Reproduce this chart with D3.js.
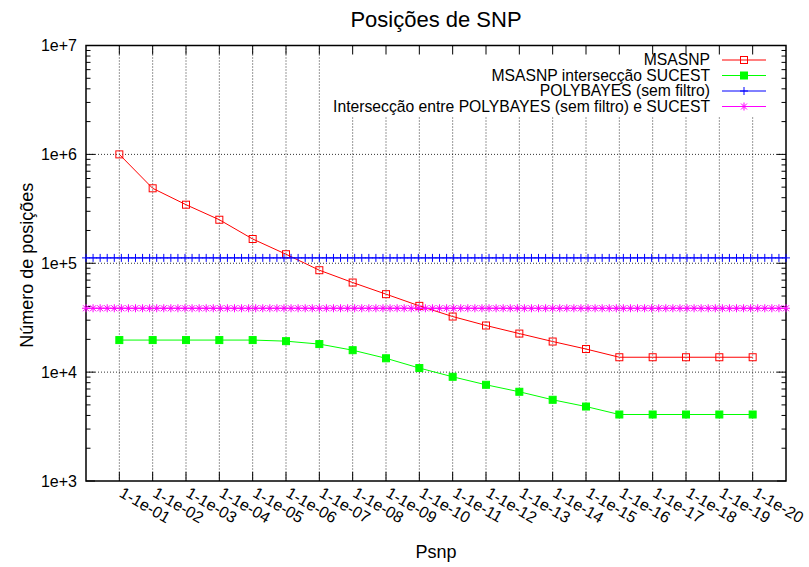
<!DOCTYPE html>
<html lang="en">
<head>
    <meta charset="UTF-8">
    <title>Posições de SNP</title>
    <script src="https://d3js.org/d3.v7.min.js"></script>
    <style>
        body {
            margin: 0;
            background: #fff;
        }
        svg text {
            font-family: "Liberation Sans", Arial, Helvetica, sans-serif;
            fill: #000;
        }
        .grid line {
            stroke: #000;
            stroke-opacity: 0.8;
            stroke-dasharray: 1, 2;
            stroke-width: 1;
        }
    </style>
</head>
<body>
    <div id="chart"></div>

    <script>
        const width = 809, height = 567;

        // data
        const psnpLabels = ["1-1e-01", "1-1e-02", "1-1e-03", "1-1e-04", "1-1e-05",
            "1-1e-06", "1-1e-07", "1-1e-08", "1-1e-09", "1-1e-10",
            "1-1e-11", "1-1e-12", "1-1e-13", "1-1e-14", "1-1e-15",
            "1-1e-16", "1-1e-17", "1-1e-18", "1-1e-19", "1-1e-20"];
        const msasnp = [1000000, 488000, 345000, 251000, 167000, 121000, 86300, 66500, 52000, 40600,
            32400, 26800, 22600, 19100, 16300, 13700, 13700, 13700, 13700, 13700];
        const msasnpSucest = [19700, 19700, 19700, 19700, 19700, 19250, 18100, 15900, 13400, 10900,
            9060, 7650, 6600, 5570, 4830, 4080, 4080, 4080, 4080, 4080];
        const polybayes = 112000;       // constant line (sem filtro)
        const polybayesSucest = 38600;  // constant line
        const yTickValues = [1e3, 1e4, 1e5, 1e6, 1e7];
        const yTickLabels = ["1e+3", "1e+4", "1e+5", "1e+6", "1e+7"];
        const legendLabels = ["MSASNP", "MSASNP intersecção SUCEST",
            "POLYBAYES (sem filtro)", "Intersecção entre POLYBAYES (sem filtro) e SUCEST"];
        const nSamples = 100;

        const margin = {top: 45.5, right: 23, bottom: 86, left: 86};
        const plotW = width - margin.left - margin.right;
        const plotH = height - margin.top - margin.bottom;

        const svg = d3.select("#chart")
            .append("svg")
            .attr("width", width)
            .attr("height", height);

        const x = d3.scaleLinear().domain([0, psnpLabels.length + 1]).range([margin.left, margin.left + plotW]);
        const y = d3.scaleLog().domain([1e3, 1e7]).range([margin.top + plotH, margin.top]);

        const idx = d3.range(1, psnpLabels.length + 1);
        const minorTicks = [];
        for (let d = 1e3; d < 1e7; d *= 10) {
            for (let m = 2; m <= 9; m++) minorTicks.push(d * m);
        }

        // grid
        const grid = svg.append("g").attr("class", "grid");
        grid.selectAll(".gx").data(idx).join("line")
            .attr("x1", d => x(d)).attr("x2", d => x(d))
            .attr("y1", y(1e7)).attr("y2", y(1e3));
        grid.selectAll(".gy").data(yTickValues.slice(1, -1)).join("line")
            .attr("class", "gy")
            .attr("x1", x(0)).attr("x2", x(21))
            .attr("y1", d => y(d)).attr("y2", d => y(d));

        // legend background hides the grid behind it
        svg.append("rect")
            .attr("x", 326).attr("y", y(1e7) + 1)
            .attr("width", x(21) - 326 - 1).attr("height", 70)
            .attr("fill", "#fff");

        // ticks
        const ticks = svg.append("g").attr("stroke", "#000").attr("stroke-width", 1);
        idx.forEach(d => {
            ticks.append("line").attr("x1", x(d)).attr("x2", x(d)).attr("y1", y(1e3)).attr("y2", y(1e3) - 9);
            ticks.append("line").attr("x1", x(d)).attr("x2", x(d)).attr("y1", y(1e7)).attr("y2", y(1e7) + 9);
        });
        yTickValues.forEach(v => {
            ticks.append("line").attr("x1", x(0)).attr("x2", x(0) + 9).attr("y1", y(v)).attr("y2", y(v));
            ticks.append("line").attr("x1", x(21)).attr("x2", x(21) - 9).attr("y1", y(v)).attr("y2", y(v));
        });
        minorTicks.forEach(v => {
            ticks.append("line").attr("x1", x(0)).attr("x2", x(0) + 4.5).attr("y1", y(v)).attr("y2", y(v));
            ticks.append("line").attr("x1", x(21)).attr("x2", x(21) - 4.5).attr("y1", y(v)).attr("y2", y(v));
        });

        // tick labels
        svg.selectAll(".ylab").data(yTickValues).join("text")
            .attr("x", x(0) - 9)
            .attr("y", d => y(d))
            .attr("dy", "0.35em")
            .attr("text-anchor", "end")
            .style("font-size", "16px")
            .text((d, i) => yTickLabels[i]);

        svg.selectAll(".xlab").data(idx).join("text")
            .attr("transform", d => `translate(${x(d) - 1},${y(1e3) + 15}) rotate(30)`)
            .attr("text-anchor", "start")
            .style("font-size", "16px")
            .text((d, i) => psnpLabels[i]);

        // frame
        svg.append("rect")
            .attr("x", x(0)).attr("y", y(1e7))
            .attr("width", plotW).attr("height", plotH)
            .attr("fill", "none").attr("stroke", "#000").attr("stroke-width", 1.5);

        const line = d3.line().x(d => x(d[0])).y(d => y(d[1]));

        function squareMarker(g, pts, color, filled) {
            g.selectAll(null).data(pts).join("rect")
                .attr("x", d => x(d[0]) - 3.5).attr("y", d => y(d[1]) - 3.5)
                .attr("width", 7).attr("height", 7)
                .attr("fill", filled ? color : "none")
                .attr("stroke", color).attr("stroke-width", 1);
        }
        function plusMarker(g, pts, color) {
            g.selectAll(null).data(pts).join("path")
                .attr("d", d => `M${x(d[0]) - 4},${y(d[1])}h8M${x(d[0])},${y(d[1]) - 4}v8`)
                .attr("stroke", color).attr("stroke-width", 1).attr("fill", "none");
        }
        function starMarker(g, pts, color) {
            g.selectAll(null).data(pts).join("path")
                .attr("d", d => {
                    const cx = x(d[0]), cy = y(d[1]);
                    return `M${cx - 4},${cy}h8M${cx},${cy - 4}v8M${cx - 3},${cy - 3}l6,6M${cx - 3},${cy + 3}l6,-6`;
                })
                .attr("stroke", color).attr("stroke-width", 1).attr("fill", "none");
        }

        const redPts = idx.map((d, i) => [d, msasnp[i]]);
        const greenPts = idx.map((d, i) => [d, msasnpSucest[i]]);
        const samplePos = d3.range(nSamples).map(i => 21 * i / (nSamples - 1));
        const bluePts = samplePos.map(s => [s, polybayes]);
        const pinkPts = samplePos.map(s => [s, polybayesSucest]);

        const series = [
            {pts: redPts, color: "#ff0000", marker: (g, p, c) => squareMarker(g, p, c, false)},
            {pts: greenPts, color: "#00ff00", marker: (g, p, c) => squareMarker(g, p, c, true)},
            {pts: bluePts, color: "#0000ff", marker: plusMarker},
            {pts: pinkPts, color: "#ff00ff", marker: starMarker}
        ];

        series.forEach(s => {
            const g = svg.append("g");
            g.append("path").datum(s.pts)
                .attr("d", line)
                .attr("fill", "none").attr("stroke", s.color).attr("stroke-width", 1);
            s.marker(g, s.pts, s.color);
        });

        // legend
        const legendX = 710, legendY0 = 60, legendStep = 15.5;
        series.forEach((s, i) => {
            const ly = legendY0 + i * legendStep;
            svg.append("text")
                .attr("x", legendX).attr("y", ly).attr("dy", "0.35em")
                .attr("text-anchor", "end")
                .style("font-size", "15.7px")
                .text(legendLabels[i]);
            const g = svg.append("g");
            g.append("line").attr("x1", 722).attr("x2", 766).attr("y1", ly).attr("y2", ly)
                .attr("stroke", s.color).attr("stroke-width", 1);
            const invX = x.invert(744), invY = y.invert(ly);
            s.marker(g, [[invX, invY]], s.color);
        });

        // titles
        svg.append("text")
            .attr("x", x(10.5)).attr("y", 26.5)
            .attr("text-anchor", "middle")
            .style("font-size", "22px")
            .text("Posições de SNP");

        svg.append("text")
            .attr("transform", `translate(33,${(y(1e3) + y(1e7)) / 2 + 2}) rotate(-90)`)
            .attr("text-anchor", "middle")
            .style("font-size", "18px")
            .text("Número de posições");

        svg.append("text")
            .attr("x", x(10.5)).attr("y", 558)
            .attr("text-anchor", "middle")
            .style("font-size", "18px")
            .text("Psnp");
    </script>
</body>
</html>
